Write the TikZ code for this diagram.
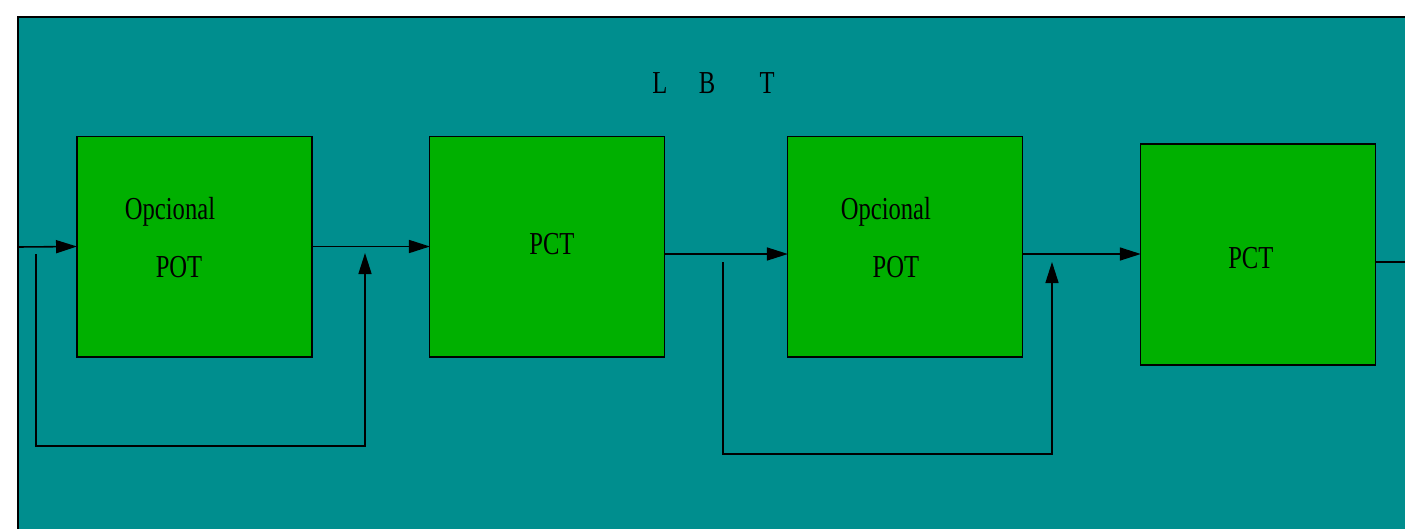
\documentclass[tikz,border=0pt]{standalone}
\usepackage{fontspec}
\setmainfont{Liberation Serif}
\usepackage{graphicx}
\usetikzlibrary{positioning,calc,arrows.meta}
\definecolor{panelteal}{RGB}{0,142,142}
\definecolor{stagegreen}{RGB}{0,176,0}
\newcommand{\tall}[1]{\scalebox{1}[1.3]{#1}}

\begin{document}
\begin{tikzpicture}[x=0.02cm,y=-0.02cm,
				every node/.style={font=\fontsize{14}{16}\selectfont},
				stage/.style={draw,fill=stagegreen,minimum width=4.7cm,minimum height=4.42cm,inner sep=0pt,outer sep=0pt,line width=0.6pt},
				flow/.style={-{Triangle[length=0.42cm,width=0.26cm]},line width=0.9pt},
				wire/.style={line width=0.9pt}]
				\useasboundingbox (0,0) rectangle (1405,528);
				\draw[fill=panelteal,line width=1pt] (18,560) -- (18,17) -- (1440,17) -- (1440,560) -- cycle;

				\node[stage] (S1) at (194.5,246.5)                        {};
				\node[stage] (S2) [right=2.36cm of S1]                    {};
				\node[stage] (S3) [right=2.46cm of S2]                    {};
				\node[stage] (S4) [right=2.36cm of S3,yshift=-0.16cm]     {};

				\node (L) at (660,83) {\tall{L}};
				\node (B) at (707,83) {\tall{B}};
				\node (T) at (767,83) {\tall{T}};

				\node (S1a) at ([shift={(-24.5,-35)}]S1.center) {\tall{Opcional}};
				\node (S1b) at ([shift={(-15.5,21)}]S1.center)   {\tall{POT}};
				\node (S2a) at ([shift={(4.5,-2)}]S2.center)     {\tall{PCT}};
				\node (S3a) at ([shift={(-19.5,-35)}]S3.center) {\tall{Opcional}};
				\node (S3b) at ([shift={(-9.5,21)}]S3.center)    {\tall{POT}};
				\node (S4a) at ([shift={(-7.5,4)}]S4.center)     {\tall{PCT}};

				% free ends and bypass corners
				\coordinate (IN)  at (18,247);
				\coordinate (OUT) at (1420,262);
				\coordinate (J1)  at (36,254);
				\coordinate (K1)  at (365,446);
				\coordinate (J2)  at (723,262);
				\coordinate (K2)  at (1052,454);

				\draw[flow] (IN) -- (S1.west);
				\draw[flow] (S1.east) -- (S2.west);
				\draw[flow] (S2.east |- 0,254) -- (S3.west |- 0,254);
				\draw[flow] (S3.east |- 0,254) -- (S4.west |- 0,254);
				\draw[wire] (S4.east |- OUT) -- (OUT);

				\draw[flow] (J1) |- (K1) -- (K1 |- 0,253);
				\draw[flow] (J2) |- (K2) -- (K2 |- 0,262);
			\end{tikzpicture}
\end{document}
